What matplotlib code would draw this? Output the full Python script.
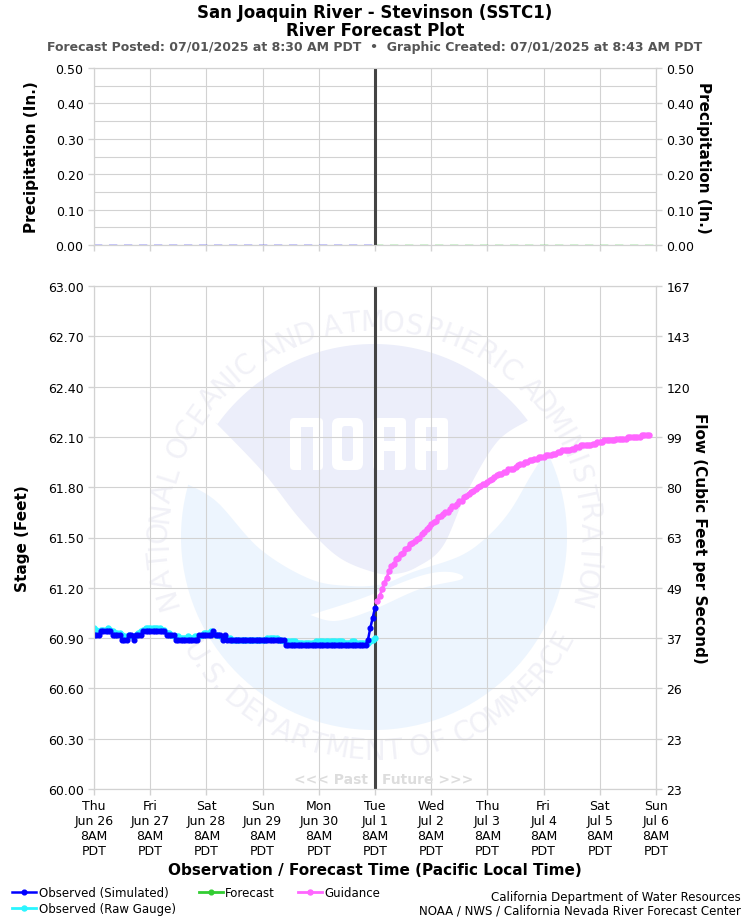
# River forecast plot for SSTC1 with NOAA watermark behind the axes
import numpy as np
import pandas as pd
import matplotlib
matplotlib.use('Agg')
import matplotlib.pyplot as plt
from matplotlib.patches import Circle, Polygon, FancyBboxPatch, Rectangle

# Hourly stage (feet), starting Jun 26 8AM
stage_simulated = [
    60.92, 60.92, 60.92, 60.94, 60.94, 60.94, 60.94, 60.94, 60.92, 60.92, 60.92, 60.92,
    60.89, 60.89, 60.89, 60.92, 60.92, 60.89, 60.92, 60.92, 60.92, 60.94, 60.94, 60.94,
    60.94, 60.94, 60.94, 60.94, 60.94, 60.94, 60.94, 60.92, 60.92, 60.92, 60.92, 60.89,
    60.89, 60.89, 60.89, 60.89, 60.89, 60.89, 60.89, 60.89, 60.89, 60.92, 60.92, 60.92,
    60.92, 60.92, 60.92, 60.94, 60.92, 60.92, 60.92, 60.89, 60.92, 60.89, 60.89, 60.89,
    60.89, 60.89, 60.89, 60.89, 60.89, 60.89, 60.89, 60.89, 60.89, 60.89, 60.89, 60.89,
    60.89, 60.89, 60.89, 60.89, 60.89, 60.89, 60.89, 60.89, 60.89, 60.89, 60.86, 60.86,
    60.86, 60.86, 60.86, 60.86, 60.86, 60.86, 60.86, 60.86, 60.86, 60.86, 60.86, 60.86,
    60.86, 60.86, 60.86, 60.86, 60.86, 60.86, 60.86, 60.86, 60.86, 60.86, 60.86, 60.86,
    60.86, 60.86, 60.86, 60.86, 60.86, 60.86, 60.86, 60.86, 60.86, 60.89, 60.96, 61.02,
    61.08,
]
stage_raw = [
    60.96, 60.95, 60.94, 60.95, 60.95, 60.95, 60.96, 60.95, 60.94, 60.93, 60.93, 60.93,
    60.92, 60.91, 60.91, 60.92, 60.91, 60.91, 60.92, 60.93, 60.94, 60.95, 60.96, 60.96,
    60.96, 60.96, 60.96, 60.96, 60.96, 60.95, 60.95, 60.93, 60.93, 60.92, 60.91, 60.91,
    60.91, 60.90, 60.90, 60.90, 60.91, 60.90, 60.90, 60.91, 60.91, 60.91, 60.92, 60.93,
    60.93, 60.93, 60.94, 60.93, 60.92, 60.92, 60.91, 60.90, 60.90, 60.90, 60.90, 60.89,
    60.89, 60.89, 60.89, 60.89, 60.89, 60.89, 60.89, 60.89, 60.89, 60.89, 60.89, 60.89,
    60.89, 60.89, 60.90, 60.90, 60.90, 60.90, 60.90, 60.89, 60.89, 60.88, 60.88, 60.88,
    60.88, 60.88, 60.88, 60.87, 60.87, 60.87, 60.87, 60.87, 60.87, 60.87, 60.87, 60.88,
    60.88, 60.88, 60.88, 60.88, 60.88, 60.88, 60.88, 60.88, 60.88, 60.88, 60.88, 60.87,
    60.87, 60.87, 60.88, 60.88, 60.87, 60.87, 60.87, 60.87, 60.87, 60.87, 60.88, 60.89,
    60.90,
]
# Hourly guidance, starting Jul 1 9AM
stage_guidance = [
    61.12, 61.15, 61.19, 61.23, 61.26, 61.30, 61.33, 61.34, 61.37, 61.38, 61.40, 61.41,
    61.43, 61.44, 61.46, 61.47, 61.48, 61.49, 61.50, 61.52, 61.53, 61.55, 61.56, 61.58,
    61.59, 61.60, 61.62, 61.63, 61.64, 61.65, 61.65, 61.67, 61.69, 61.69, 61.70, 61.72,
    61.72, 61.74, 61.75, 61.76, 61.77, 61.78, 61.79, 61.80, 61.81, 61.82, 61.82, 61.83,
    61.84, 61.85, 61.86, 61.87, 61.88, 61.88, 61.89, 61.89, 61.91, 61.91, 61.91, 61.92,
    61.93, 61.94, 61.94, 61.95, 61.95, 61.96, 61.96, 61.97, 61.97, 61.98, 61.98, 61.98,
    61.99, 61.99, 61.99, 62.00, 62.00, 62.01, 62.01, 62.02, 62.02, 62.02, 62.02, 62.03,
    62.03, 62.04, 62.04, 62.05, 62.05, 62.05, 62.05, 62.05, 62.06, 62.06, 62.07, 62.07,
    62.07, 62.08, 62.08, 62.08, 62.08, 62.08, 62.09, 62.09, 62.09, 62.09, 62.09, 62.10,
    62.10, 62.10, 62.10, 62.10, 62.10, 62.11, 62.11, 62.11, 62.11,
]
stage_forecast = []

# 6-hourly precipitation (inches)
precip_past = [0.0, 0.0, 0.0, 0.0, 0.0, 0.0, 0.0, 0.0, 0.0, 0.0, 0.0,
               0.0, 0.0, 0.0, 0.0, 0.0, 0.0, 0.0, 0.0, 0.0, 0.0]
precip_future = [0.0, 0.0, 0.0, 0.0, 0.0, 0.0, 0.0, 0.0, 0.0, 0.0, 0.0,
                 0.0, 0.0, 0.0, 0.0, 0.0, 0.0, 0.0, 0.0, 0.0, 0.0]

stage_ticks = [60.00, 60.30, 60.60, 60.90, 61.20, 61.50, 61.80, 62.10, 62.40, 62.70, 63.00]
flow_labels = ['23', '23', '26', '37', '49', '63', '80', '99', '120', '143', '167']
precip_ticks = [0.0, 0.1, 0.2, 0.3, 0.4, 0.5]
day_labels = ['Thu\nJun 26', 'Fri\nJun 27', 'Sat\nJun 28', 'Sun\nJun 29', 'Mon\nJun 30', 'Tue\nJul 1',
              'Wed\nJul 2', 'Thu\nJul 3', 'Fri\nJul 4', 'Sat\nJul 5', 'Sun\nJul 6']

GRID = '#d2d2d2'
TICKFS = 9

times_obs = pd.date_range('2025-06-26 08:00', periods=len(stage_simulated), freq='h')
times_guid = pd.date_range('2025-07-01 09:00', periods=len(stage_guidance), freq='h')
times_past = pd.date_range('2025-06-26 08:00', periods=len(precip_past), freq='6h')
times_future = pd.date_range('2025-07-01 08:00', periods=len(precip_future), freq='6h')
day_ticks = pd.date_range('2025-06-26 08:00', periods=len(day_labels), freq='D')
now = pd.Timestamp('2025-07-01 08:00')

fig = plt.figure(figsize=(7.5, 9.2), dpi=100)


def px_axes(left, top, right, bottom):
    return [left / 750, (920 - bottom) / 920, (right - left) / 750, (bottom - top) / 920]


def smooth(pts, n=12):
    # Catmull-Rom through the outline points of the logo
    p = np.array([pts[0]] + list(pts) + [pts[-1]], dtype=float)
    out = []
    for i in range(1, len(p) - 2):
        for t in np.linspace(0, 1, n, endpoint=False):
            out.append(0.5 * (2 * p[i] + (p[i + 1] - p[i - 1]) * t
                              + (2 * p[i - 1] - 5 * p[i] + 4 * p[i + 1] - p[i + 2]) * t ** 2
                              + (3 * p[i] - p[i - 1] - 3 * p[i + 1] + p[i + 2]) * t ** 3))
    out.append(p[-2])
    return [tuple(q) for q in out]


# Watermark lives in its own axes in pixel coordinates
wm = fig.add_axes([0, 0, 1, 1], zorder=-1)
wm.set_xlim(0, 750)
wm.set_ylim(920, 0)
wm.axis('off')

cx, cy, r = 374, 538, 193
LIGHT = '#edf5fe'
LAV = '#eceefa'
wm.add_patch(Circle((cx, cy), r, fc=LIGHT, ec='none'))
blue_edge = smooth([(187, 485), (217, 503), (260, 550), (310, 580), (350, 587), (383, 585),
                    (413, 573), (460, 557), (488, 537), (510, 512), (530, 478), (540, 462)])
wm.add_patch(Polygon([(150, 470)] + blue_edge + [(600, 420), (600, 300), (150, 300)],
                     fc='white', ec='none', closed=True))
ang1 = np.arctan2(cy - 423, 215 - cx)
ang2 = np.arctan2(cy - 422, 527 - cx)
arc = np.linspace(ang1, ang2, 60)
arc_pts = [(cx + r * np.cos(a), cy - r * np.sin(a)) for a in arc]
lav_edge = smooth([(527, 422), (497, 443), (467, 493), (443, 547), (417, 568), (395, 575), (373, 573),
                   (337, 557), (300, 520), (263, 473), (215, 423)])
wm.add_patch(Polygon(arc_pts + lav_edge, fc=LAV, ec='none', closed=True))
# tail of the bird
wm.add_patch(Polygon(smooth([(310, 616), (360, 600), (420, 577), (450, 573), (462, 580), (420, 590),
                             (370, 612), (335, 622), (310, 616)]), fc='white', ec='none', closed=True))


def block(x0, y0, x1, y1, fc='white', rad=4):
    wm.add_patch(FancyBboxPatch((x0 + rad, y0 + rad), x1 - x0 - 2 * rad, y1 - y0 - 2 * rad,
                                boxstyle=f'round,pad={rad},rounding_size={rad}', fc=fc, ec='none'))


# NOAA letters
block(290, 419, 323, 471)
wm.add_patch(Rectangle((301, 428), 12, 43, fc=LAV, ec='none'))
block(332, 419, 363, 471, rad=7)
block(342, 427, 353, 462, fc=LAV, rad=3)
for x0, x1 in [(373, 406), (415, 448)]:
    block(x0, 419, x1, 471)
    wm.add_patch(Rectangle((x0 + 11, 428), x1 - x0 - 22, 14, fc=LAV, ec='none'))
    wm.add_patch(Rectangle((x0 + 11, 452), x1 - x0 - 22, 19, fc=LAV, ec='none'))


def arc_text(s, start, end, radius, top_side=True):
    widths = [0.45 if c in ' .I' else 1.15 if c in 'MW' else 1.0 for c in s]
    pos = np.cumsum(widths) - np.array(widths) / 2
    pos = pos / sum(widths)
    for c, p in zip(s, pos):
        a = np.radians(start + (end - start) * p)
        x = cx + radius * np.cos(a)
        y = cy - radius * np.sin(a)
        rot = np.degrees(a) - 90 if top_side else np.degrees(a) + 90
        wm.text(x, y, c, rotation=rot, rotation_mode='anchor', ha='center', va='center',
                fontsize=20, color='#f1f1f7')


arc_text('NATIONAL OCEANIC AND ATMOSPHERIC ADMINISTRATION', 199, -19, 215)
arc_text('U.S. DEPARTMENT OF COMMERCE', 210, 334, 214, top_side=False)

# Precipitation panel
ax_p = fig.add_axes(px_axes(94, 69, 656, 246), facecolor='none')
ax_p.plot(times_past, precip_past, color='#0000ff', lw=1.2, ls=(0, (5, 4)), alpha=0.25)
ax_p.plot(times_future, precip_future, color='#32cd32', lw=1.2, ls=(0, (5, 4)), alpha=0.25)
ax_p.axvline(now, color='#444444', lw=2.2, zorder=3)
ax_p.set_ylim(0, 0.5)
ax_p.set_yticks(precip_ticks)
ax_p.set_yticklabels([f'{v:.2f}' for v in precip_ticks], fontsize=TICKFS)
ax_p.set_yticks(np.arange(0.05, 0.5, 0.1), minor=True)
ax_p.set_ylabel('Precipitation (In.)', fontsize=11, fontweight='bold', labelpad=12)
ax_p2 = ax_p.twinx()
ax_p2.set_ylim(0, 0.5)
ax_p2.set_yticks(precip_ticks)
ax_p2.set_yticklabels([f'{v:.2f}' for v in precip_ticks], fontsize=TICKFS)
ax_p2.set_ylabel('Precipitation (In.)', fontsize=11, fontweight='bold', rotation=270, labelpad=12)

# Stage panel
ax = fig.add_axes(px_axes(94, 287, 656, 790), facecolor='none')
ax.axvline(now, color='#444444', lw=2.2, zorder=1.5)
line_raw, = ax.plot(times_obs, stage_raw, color='#2af5ff', lw=2, marker='o', ms=3.6)
line_sim, = ax.plot(times_obs, stage_simulated, color='#0000ff', lw=1.8, marker='o', ms=3.4)
line_fc, = ax.plot(times_guid[:len(stage_forecast)], stage_forecast, color='#32cd32', lw=2, marker='o', ms=3.4)
line_gd, = ax.plot(times_guid, stage_guidance, color='#ff66ff', lw=2, marker='o', ms=3.6)
ax.set_ylim(60, 63)
ax.set_yticks(stage_ticks)
ax.set_yticklabels([f'{v:.2f}' for v in stage_ticks], fontsize=TICKFS)
ax.set_ylabel('Stage (Feet)', fontsize=11, fontweight='bold', labelpad=13)
ax.set_xlabel('Observation / Forecast Time (Pacific Local Time)', fontsize=11, fontweight='bold', labelpad=4)
ax2 = ax.twinx()
ax2.set_ylim(60, 63)
ax2.set_yticks(stage_ticks)
ax2.set_yticklabels(flow_labels, fontsize=TICKFS)
ax2.set_ylabel('Flow (Cubic Feet per Second)', fontsize=11, fontweight='bold', rotation=270, labelpad=12)

ax.text(now - pd.Timedelta(hours=3), 60.06, '<<< Past', ha='right', va='center', fontsize=10,
        fontweight='bold', color='#dddddd')
ax.text(now + pd.Timedelta(hours=3), 60.06, 'Future >>>', ha='left', va='center', fontsize=10,
        fontweight='bold', color='#dddddd')

for a in (ax_p, ax_p2, ax, ax2):
    a.set_xlim(day_ticks[0], day_ticks[-1])
    a.tick_params(axis='both', color=GRID, length=4, width=1)
    a.tick_params(axis='y', which='minor', length=0)
    for s in a.spines.values():
        s.set_color(GRID)
for a in (ax_p, ax):
    a.set_xticks(day_ticks)
    a.set_axisbelow(True)
    a.grid(True, color=GRID, lw=0.8)
ax_p.grid(True, which='minor', axis='y', color=GRID, lw=0.8)
ax_p.set_xticklabels([])
ax.set_xticklabels([d + '\n8AM\nPDT' for d in day_labels], fontsize=TICKFS, linespacing=1.2)
ax.tick_params(axis='x', pad=3)

fig.text(0.5, 1 - 13 / 920, 'San Joaquin River - Stevinson (SSTC1)', ha='center', va='center',
         fontsize=12, fontweight='bold')
fig.text(0.5, 1 - 31 / 920, 'River Forecast Plot', ha='center', va='center', fontsize=12, fontweight='bold')
fig.text(0.5, 1 - 48 / 920, 'Forecast Posted: 07/01/2025 at 8:30 AM PDT  \u2022  Graphic Created: 07/01/2025 at 8:43 AM PDT',
         ha='center', va='center', fontsize=9, fontweight='bold', color='#555555')

fig.legend([line_sim, line_raw, line_fc, line_gd],
           ['Observed (Simulated)', 'Observed (Raw Gauge)', 'Forecast', 'Guidance'],
           ncols=3, loc='lower left', bbox_to_anchor=(12 / 750, 4 / 920), frameon=False, fontsize=8.5,
           handlelength=2.05, labelspacing=0.25, columnspacing=1.95, handletextpad=0.2, borderpad=0,
           borderaxespad=0)
fig.text(741 / 750, 1 - 898 / 920, 'California Department of Water Resources', ha='right', va='center', fontsize=8.5)
fig.text(741 / 750, 1 - 911 / 920, 'NOAA / NWS / California Nevada River Forecast Center', ha='right', va='center',
         fontsize=8.5)

fig.savefig('out.png', dpi=100)
